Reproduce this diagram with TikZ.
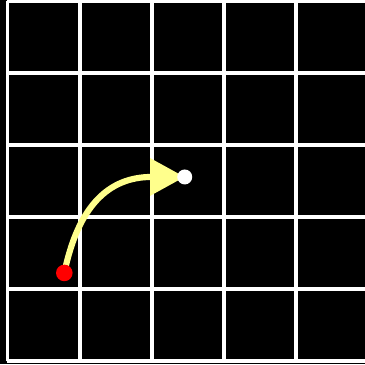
\documentclass[tikz,border=0pt]{standalone}
\usetikzlibrary{arrows.meta}
\definecolor{paleyellow}{RGB}{255,255,140}
\tikzset{
  gridline/.style={white, line width=0.055cm},
  movearrow/.style={paleyellow, line width=0.085cm, -{Triangle[length=0.48cm, width=0.5cm]}},
}
\begin{document}
\begin{tikzpicture}[x=1cm,y=1cm]
  \fill[black] (-0.104,-0.042) rectangle (4.958,5.010);
  \useasboundingbox (-0.104,-0.042) rectangle (4.958,5.010);
  \begin{scope}
    \clip (-0.104,-0.042) rectangle (4.958,5.010);
    \draw[gridline] (0,0) grid (5,5);
  \end{scope}
  \coordinate (r) at (0.788,1.225);
  \coordinate (w) at (2.458,2.556);
  \draw[movearrow] (r) .. controls (0.98,2.15) and (1.4,2.556) .. (w);
  \fill[red] (r) circle[radius=0.115];
  \fill[white] (w) circle[radius=0.104];
\end{tikzpicture}
\end{document}
